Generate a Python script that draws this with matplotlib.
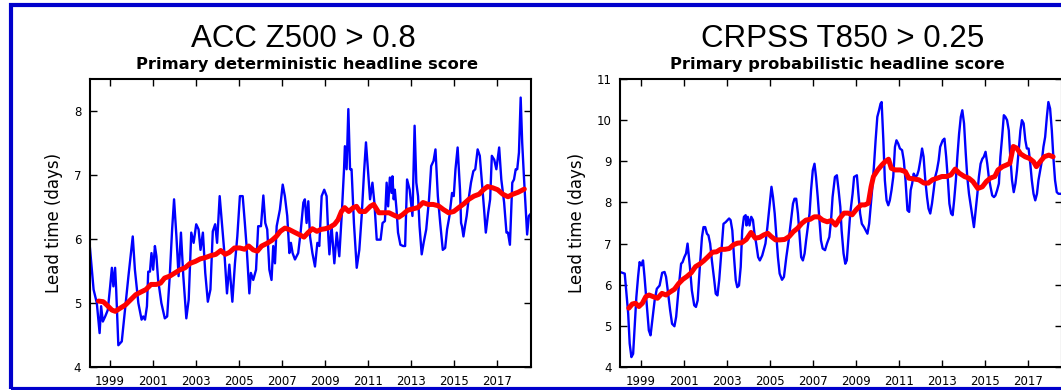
import matplotlib
matplotlib.use("Agg")
import matplotlib.pyplot as plt
from matplotlib.patches import Rectangle

# ---------------- data ----------------
acc_years = [1998.04, 1998.23, 1998.38, 1998.51, 1998.58, 1998.66, 1998.77, 1998.89,
             1999.00, 1999.08, 1999.15, 1999.23, 1999.28, 1999.38, 1999.54, 1999.69, 1999.85,
             2000.05, 2000.15, 2000.31, 2000.46, 2000.54, 2000.62, 2000.71, 2000.77, 2000.85, 2000.92,
             2001.00, 2001.08, 2001.15, 2001.23, 2001.38, 2001.54, 2001.65, 2001.77, 2001.88, 2001.97,
             2002.08, 2002.18, 2002.29, 2002.40, 2002.54, 2002.65, 2002.77, 2002.88,
             2003.00, 2003.11, 2003.20, 2003.31, 2003.42, 2003.54, 2003.66, 2003.77, 2003.88, 2003.97,
             2004.09, 2004.22, 2004.31, 2004.43, 2004.54, 2004.68, 2004.80, 2004.91,
             2005.03, 2005.16, 2005.26, 2005.34, 2005.47, 2005.54, 2005.65, 2005.78, 2005.88,
             2006.01, 2006.12, 2006.21, 2006.30, 2006.40, 2006.50, 2006.58, 2006.66, 2006.74, 2006.89,
             2007.02, 2007.12, 2007.23, 2007.33, 2007.40, 2007.48, 2007.59, 2007.74, 2007.85, 2007.98,
             2008.05, 2008.13, 2008.21, 2008.29, 2008.40, 2008.52, 2008.63, 2008.72, 2008.83, 2008.95,
             2009.06, 2009.14, 2009.19, 2009.29, 2009.42, 2009.53, 2009.65, 2009.76, 2009.87, 2009.91, 2009.99,
             2010.07, 2010.15, 2010.22, 2010.33, 2010.46, 2010.58, 2010.69, 2010.80, 2010.89, 2010.98,
             2011.08, 2011.19, 2011.28, 2011.39, 2011.57, 2011.66, 2011.77, 2011.85, 2011.92,
             2012.00, 2012.08, 2012.12, 2012.18, 2012.23, 2012.31, 2012.38, 2012.49, 2012.62, 2012.71, 2012.80, 2012.92,
             2013.05, 2013.15, 2013.23, 2013.31, 2013.38, 2013.48, 2013.57, 2013.69, 2013.82, 2013.92,
             2014.03, 2014.12, 2014.23, 2014.34, 2014.46, 2014.57, 2014.66, 2014.77, 2014.89, 2014.97,
             2015.05, 2015.15, 2015.26, 2015.31, 2015.35, 2015.42, 2015.49, 2015.57, 2015.66, 2015.77, 2015.88, 2015.97,
             2016.08, 2016.18, 2016.28, 2016.38, 2016.46, 2016.57, 2016.66, 2016.74, 2016.85, 2016.95,
             2017.08, 2017.18, 2017.31, 2017.42, 2017.49, 2017.58, 2017.69, 2017.77, 2017.85, 2017.92,
             2018.00, 2018.08, 2018.15, 2018.23, 2018.31, 2018.38, 2018.46, 2018.56]
acc_values = [5.94, 5.21, 5.00, 4.53, 4.95, 4.71, 4.79, 4.89,
              5.26, 5.55, 5.26, 5.55, 5.21, 4.34, 4.40, 4.89, 5.42,
              6.04, 5.52, 5.00, 4.74, 4.79, 4.74, 4.95, 5.49, 5.49, 5.78,
              5.52, 5.89, 5.73, 5.36, 5.00, 4.76, 4.79, 5.42, 6.15, 6.62,
              6.04, 5.42, 6.10, 5.42, 4.76, 5.05, 6.10, 5.94,
              6.23, 6.15, 5.83, 6.10, 5.47, 5.02, 5.21, 6.12, 6.23, 5.94,
              6.67, 6.15, 5.78, 5.15, 5.60, 5.02, 5.62, 6.04,
              6.67, 6.67, 6.25, 5.89, 5.15, 5.47, 5.36, 5.52, 6.20,
              6.20, 6.68, 6.25, 6.15, 5.52, 5.36, 5.89, 5.62, 6.20, 6.46,
              6.85, 6.67, 6.36, 5.78, 5.94, 5.78, 5.68, 5.78, 6.10, 6.57,
              6.62, 6.25, 6.59, 6.04, 5.78, 5.57, 5.94, 5.89, 6.67, 6.77,
              6.67, 6.04, 5.76, 6.20, 5.62, 6.10, 5.73, 6.36, 7.09, 7.45, 7.09,
              8.03, 7.09, 7.09, 6.25, 5.55, 5.83, 6.36, 7.04, 7.51, 7.09,
              6.62, 6.88, 6.57, 5.99, 5.99, 6.25, 6.28, 6.88, 6.51,
              6.96, 6.72, 6.98, 6.62, 6.77, 6.46, 6.10, 5.91, 5.89, 5.89, 6.93, 6.77,
              6.36, 7.77, 6.88, 6.67, 6.20, 5.76, 5.94, 6.15, 6.62, 7.14,
              7.22, 7.40, 6.67, 6.25, 5.83, 5.86, 6.15, 6.36, 6.72, 6.67,
              7.09, 7.43, 6.77, 6.25, 6.20, 6.04, 6.20, 6.36, 6.62, 6.88, 7.06, 7.09,
              7.40, 7.30, 6.88, 6.46, 6.10, 6.41, 6.62, 7.30, 7.24, 7.09,
              7.43, 6.93, 6.57, 6.10, 6.10, 5.91, 6.88, 6.93, 7.09, 7.09,
              7.35, 8.21, 7.51, 6.98, 6.51, 6.07, 6.36, 6.40]

acc_smooth_years = [1998.46, 1998.68, 1998.84, 1999.08, 1999.24, 1999.47, 1999.71, 1999.95,
                    2000.19, 2000.42, 2000.66, 2000.90, 2001.14, 2001.34, 2001.53, 2001.77,
                    2002.01, 2002.25, 2002.48, 2002.72, 2002.96, 2003.19, 2003.43, 2003.67, 2003.91,
                    2004.14, 2004.35, 2004.54, 2004.78, 2005.02, 2005.25, 2005.44, 2005.65, 2005.84,
                    2006.04, 2006.28, 2006.52, 2006.72, 2006.91, 2007.12, 2007.31, 2007.54, 2007.78,
                    2008.01, 2008.20, 2008.40, 2008.61, 2008.80, 2008.99, 2009.19, 2009.43, 2009.59,
                    2009.75, 2009.90, 2010.09, 2010.30, 2010.45, 2010.61, 2010.85, 2011.09, 2011.25,
                    2011.49, 2011.73, 2011.96, 2012.20, 2012.41, 2012.59, 2012.83, 2013.06, 2013.30,
                    2013.54, 2013.78, 2014.01, 2014.25, 2014.49, 2014.73, 2014.97, 2015.20, 2015.44,
                    2015.67, 2015.91, 2016.15, 2016.35, 2016.54, 2016.78, 2017.01, 2017.25, 2017.49,
                    2017.72, 2017.96, 2018.25]
acc_smooth = [5.03, 5.02, 4.97, 4.89, 4.87, 4.92, 4.97, 5.05,
              5.13, 5.17, 5.21, 5.29, 5.29, 5.31, 5.39, 5.42,
              5.47, 5.52, 5.55, 5.62, 5.65, 5.69, 5.71, 5.74, 5.76,
              5.82, 5.76, 5.79, 5.86, 5.86, 5.84, 5.89, 5.83, 5.81,
              5.89, 5.93, 5.98, 6.04, 6.12, 6.17, 6.15, 6.11, 6.07,
              6.03, 6.10, 6.16, 6.12, 6.15, 6.16, 6.18, 6.23, 6.30,
              6.43, 6.49, 6.43, 6.49, 6.51, 6.43, 6.43, 6.51, 6.54,
              6.41, 6.41, 6.41, 6.37, 6.34, 6.38, 6.45, 6.47, 6.49,
              6.57, 6.54, 6.54, 6.52, 6.46, 6.41, 6.43, 6.49, 6.55,
              6.62, 6.67, 6.70, 6.77, 6.82, 6.80, 6.77, 6.70, 6.66,
              6.70, 6.73, 6.78]

crps_years = [1998.04, 1998.26, 1998.34, 1998.42, 1998.49, 1998.57, 1998.65, 1998.72, 1998.80, 1998.88, 1998.95,
              1999.03, 1999.11, 1999.18, 1999.29, 1999.38, 1999.46, 1999.54, 1999.65, 1999.75, 1999.88,
              2000.00, 2000.11, 2000.18, 2000.26, 2000.37, 2000.46, 2000.57, 2000.65, 2000.77, 2000.88, 2000.95,
              2001.03, 2001.11, 2001.18, 2001.29, 2001.38, 2001.49, 2001.57, 2001.65, 2001.75, 2001.85, 2001.92,
              2002.00, 2002.08, 2002.15, 2002.23, 2002.31, 2002.42, 2002.49, 2002.57, 2002.65, 2002.77, 2002.85, 2002.95,
              2003.11, 2003.18, 2003.26, 2003.34, 2003.42, 2003.49, 2003.57, 2003.65, 2003.72, 2003.80, 2003.88, 2003.92, 2003.98,
              2004.06, 2004.14, 2004.22, 2004.29, 2004.37, 2004.46, 2004.54, 2004.65, 2004.80, 2004.89,
              2005.00, 2005.08, 2005.15, 2005.23, 2005.31, 2005.38, 2005.46, 2005.57, 2005.66, 2005.77, 2005.88, 2005.97,
              2006.08, 2006.15, 2006.23, 2006.31, 2006.38, 2006.46, 2006.54, 2006.62, 2006.69, 2006.77, 2006.85, 2006.92,
              2007.00, 2007.08, 2007.15, 2007.23, 2007.31, 2007.38, 2007.46, 2007.57, 2007.66, 2007.77, 2007.85, 2007.92,
              2008.03, 2008.12, 2008.20, 2008.28, 2008.34, 2008.43, 2008.51, 2008.58, 2008.65, 2008.74, 2008.85, 2008.92,
              2009.05, 2009.12, 2009.20, 2009.28, 2009.38, 2009.46, 2009.54, 2009.62, 2009.69, 2009.77, 2009.85, 2009.92,
              2010.00, 2010.08, 2010.15, 2010.20, 2010.28, 2010.35, 2010.43, 2010.51, 2010.58, 2010.66, 2010.74, 2010.82,
              2010.89, 2010.97, 2011.05, 2011.15, 2011.23, 2011.31, 2011.40, 2011.48, 2011.55, 2011.62, 2011.69, 2011.77,
              2011.85, 2011.92, 2012.00, 2012.08, 2012.15, 2012.23, 2012.31, 2012.38, 2012.46, 2012.54, 2012.62, 2012.69,
              2012.77, 2012.85, 2012.92, 2013.04, 2013.12, 2013.20, 2013.28, 2013.35, 2013.43, 2013.50, 2013.57, 2013.65,
              2013.72, 2013.80, 2013.88, 2013.95, 2014.03, 2014.11, 2014.18, 2014.26, 2014.34, 2014.42, 2014.49, 2014.57,
              2014.65, 2014.72, 2014.80, 2014.88, 2014.95, 2015.03, 2015.11, 2015.18, 2015.26, 2015.34, 2015.42, 2015.49,
              2015.57, 2015.65, 2015.72, 2015.80, 2015.88, 2015.95, 2016.03, 2016.11, 2016.18, 2016.26, 2016.34, 2016.42,
              2016.49, 2016.57, 2016.65, 2016.72, 2016.80, 2016.88, 2016.95, 2017.03, 2017.11, 2017.18, 2017.26, 2017.34,
              2017.42, 2017.49, 2017.57, 2017.65, 2017.72, 2017.80, 2017.88, 2017.95, 2018.03, 2018.11, 2018.18, 2018.26,
              2018.34, 2018.42, 2018.56]
crps_values = [6.31, 6.27, 5.78, 5.30, 4.57, 4.24, 4.32, 4.97, 5.70, 6.19, 6.55,
               6.47, 6.59, 6.19, 5.46, 4.89, 4.77, 5.13, 5.62, 5.90, 5.98,
               6.29, 6.31, 6.19, 5.86, 5.38, 5.05, 4.99, 5.22, 5.94, 6.51, 6.55,
               6.67, 6.76, 7.00, 6.43, 5.86, 5.50, 5.46, 5.62, 6.43, 7.16, 7.40,
               7.40, 7.24, 7.20, 7.00, 6.59, 6.11, 5.78, 5.74, 6.11, 6.92, 7.48, 7.52,
               7.61, 7.57, 7.32, 6.67, 6.11, 5.94, 5.98, 6.43, 7.32, 7.65, 7.69, 7.44, 7.65,
               7.44, 7.65, 7.57, 7.24, 7.00, 6.67, 6.59, 6.71, 7.00, 7.40,
               7.97, 8.38, 8.13, 7.73, 7.16, 6.67, 6.27, 6.12, 6.19, 6.67, 7.08, 7.48,
               7.97, 8.09, 8.09, 7.73, 7.24, 6.67, 6.59, 6.76, 7.08, 7.40, 7.73, 8.30,
               8.78, 8.94, 8.62, 8.13, 7.57, 7.08, 6.88, 6.84, 7.00, 7.16, 7.57, 8.13,
               8.62, 8.66, 8.30, 7.89, 7.32, 6.76, 6.51, 6.59, 7.08, 7.73, 8.21, 8.62,
               8.66, 8.21, 7.73, 7.48, 7.40, 7.32, 7.24, 7.48, 7.89, 8.38, 8.94, 9.51,
               10.08, 10.24, 10.40, 10.44, 9.51, 8.54, 8.05, 7.93, 8.05, 8.30, 8.62, 9.35,
               9.51, 9.43, 9.31, 9.27, 9.02, 8.54, 7.81, 7.77, 8.30, 8.46, 8.70, 8.62,
               8.66, 8.78, 9.02, 9.31, 9.11, 8.54, 8.13, 7.85, 7.73, 7.97, 8.30, 8.62,
               8.78, 9.02, 9.35, 9.51, 9.55, 9.11, 8.54, 7.97, 7.73, 7.69, 8.05, 8.54,
               9.11, 9.67, 10.08, 10.24, 9.92, 9.19, 8.62, 8.21, 7.93, 7.65, 7.40, 7.81,
               8.21, 8.62, 8.94, 9.06, 9.11, 9.23, 8.94, 8.62, 8.38, 8.17, 8.13, 8.17,
               8.30, 8.46, 9.11, 9.59, 10.12, 10.08, 10.00, 9.75, 9.11, 8.54, 8.25, 8.46,
               8.78, 9.27, 9.75, 10.00, 9.92, 9.51, 9.31, 9.31, 8.94, 8.54, 8.21, 8.05,
               8.21, 8.54, 8.78, 9.02, 9.35, 9.59, 10.08, 10.44, 10.28, 9.75, 9.11, 8.54,
               8.25, 8.21, 8.21]

crps_smooth_years = [1998.45, 1998.61, 1998.76, 1998.92, 1999.08, 1999.24, 1999.39, 1999.58, 1999.78, 1999.99,
                     2000.18, 2000.36, 2000.57, 2000.77, 2000.96, 2001.15, 2001.35, 2001.55, 2001.74, 2001.93,
                     2002.13, 2002.34, 2002.53, 2002.71, 2002.92, 2003.12, 2003.31, 2003.50, 2003.70, 2003.91,
                     2004.13, 2004.33, 2004.53, 2004.72, 2004.91, 2005.07, 2005.27, 2005.47, 2005.69, 2005.90,
                     2006.10, 2006.29, 2006.49, 2006.68, 2006.88, 2007.07, 2007.26, 2007.46, 2007.67, 2007.86,
                     2008.06, 2008.25, 2008.45, 2008.64, 2008.83, 2009.03, 2009.24, 2009.42, 2009.58, 2009.71,
                     2009.82, 2010.02, 2010.21, 2010.36, 2010.52, 2010.65, 2010.83, 2011.07, 2011.30, 2011.46,
                     2011.70, 2011.93, 2012.17, 2012.37, 2012.56, 2012.79, 2013.00, 2013.22, 2013.42, 2013.62,
                     2013.81, 2014.05, 2014.25, 2014.44, 2014.67, 2014.88, 2015.07, 2015.25, 2015.46, 2015.61,
                     2015.82, 2016.00, 2016.16, 2016.32, 2016.48, 2016.66, 2016.87, 2017.07, 2017.26, 2017.39,
                     2017.57, 2017.76, 2017.97, 2018.17]
crps_smooth = [5.43, 5.53, 5.55, 5.47, 5.55, 5.71, 5.75, 5.71, 5.67, 5.79,
               5.75, 5.82, 5.89, 6.03, 6.13, 6.20, 6.29, 6.44, 6.50, 6.58,
               6.68, 6.79, 6.80, 6.86, 6.86, 6.88, 6.97, 7.01, 7.02, 7.10,
               7.27, 7.13, 7.15, 7.21, 7.25, 7.17, 7.09, 7.09, 7.10, 7.17,
               7.29, 7.37, 7.49, 7.57, 7.59, 7.65, 7.65, 7.57, 7.53, 7.56,
               7.45, 7.61, 7.74, 7.74, 7.70, 7.83, 7.94, 7.94, 7.98, 8.38,
               8.63, 8.79, 8.91, 8.99, 9.05, 8.83, 8.79, 8.79, 8.75, 8.59,
               8.57, 8.55, 8.47, 8.47, 8.55, 8.59, 8.63, 8.63, 8.67, 8.81,
               8.71, 8.63, 8.59, 8.51, 8.34, 8.38, 8.51, 8.59, 8.63, 8.79,
               8.87, 8.91, 8.95, 9.36, 9.32, 9.18, 9.11, 9.07, 8.99, 8.87,
               8.99, 9.11, 9.15, 9.11]

tick_years = [1999, 2001, 2003, 2005, 2007, 2009, 2011, 2013, 2015, 2017]
titles = ["ACC Z500 > 0.8", "CRPSS T850 > 0.25"]
subtitles = ["Primary deterministic headline score", "Primary probabilistic headline score"]
ylabel = "Lead time (days)"

# ---------------- figure ----------------
W, H = 1061, 390
fig = plt.figure(figsize=(W / 100, H / 100), dpi=100)
fig.patch.set_facecolor("white")

def fx(px):
    return px / W

def fy(py):
    return 1 - py / H

ax_h = (367 - 79) / H
ax_w = 441.5 / W
ax1 = fig.add_axes([fx(89.5), fy(367), ax_w, ax_h])
ax2 = fig.add_axes([fx(620), fy(367), ax_w, ax_h])

panels = [
    (ax1, acc_years, acc_values, acc_smooth_years, acc_smooth, (4, 8.5), [4, 5, 6, 7, 8]),
    (ax2, crps_years, crps_values, crps_smooth_years, crps_smooth, (4, 11), [4, 5, 6, 7, 8, 9, 10, 11]),
]

for ax, xs, ys, sx, sy, ylim, yticks in panels:
    ax.plot(xs, ys, color="#0000ff", lw=1.7, solid_joinstyle="round")
    ax.plot(sx, sy, color="#ff0000", lw=3.6, solid_joinstyle="round", solid_capstyle="round")
    ax.set_xlim(1998.04, 2018.56)
    ax.set_ylim(*ylim)
    ax.set_xticks(tick_years)
    ax.set_xticklabels([str(t) for t in tick_years])
    ax.set_yticks(yticks)
    ax.tick_params(direction="in", length=5, width=1, top=True, right=True,
                   labelsize=8.5, pad=6, colors="black")
    for s in ax.spines.values():
        s.set_linewidth(1.5)
        s.set_color("black")
    ax.set_ylabel(ylabel, fontsize=12, labelpad=8)

# titles
fig.text(fx(303), fy(47), titles[0], ha="center", va="baseline",
         fontsize=22.5, family="Liberation Sans")
fig.text(fx(843), fy(47), titles[1], ha="center", va="baseline",
         fontsize=22.5, family="Liberation Sans")
fig.text(fx(307), fy(68.5), subtitles[0], ha="center", va="baseline",
         fontsize=11.8, fontweight="bold", family="DejaVu Sans")
fig.text(fx(837), fy(68.5), subtitles[1], ha="center", va="baseline",
         fontsize=11.8, fontweight="bold", family="DejaVu Sans")

# blue slide frame
frame = Rectangle((fx(11.3), fy(388.5)), fx(1090 - 11.3), (388.5 - 5) / H,
                  transform=fig.transFigure, fill=False, edgecolor="#0000cc",
                  linewidth=3.0, clip_on=False)
fig.patches.append(frame)

fig.savefig("out.png", dpi=100, facecolor="white")
